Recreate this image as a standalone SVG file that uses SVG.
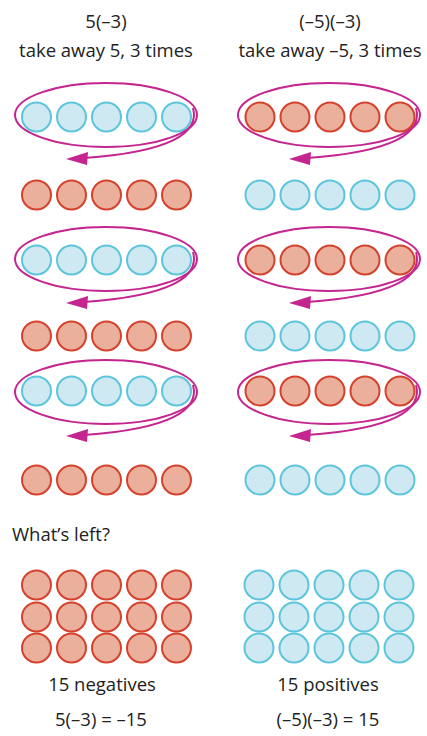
<svg xmlns="http://www.w3.org/2000/svg" width="427" height="736" viewBox="0 0 427 736">
<style>
text{font-family:"Open Sans","Liberation Sans",sans-serif;font-size:18.5px;fill:#222;}
.c{text-anchor:middle;}
.b{fill:#cee9f2;stroke:#5cc5dc;stroke-width:2;}
.r{fill:#ebb09b;stroke:#d4412d;stroke-width:2;}
.loop{fill:none;stroke:#c4258f;stroke-width:2;}
.head{fill:#c4258f;}
</style>
<defs>
<circle id="bc" r="14.5" class="b"/>
<circle id="rc" r="14.5" class="r"/>
<g id="brow"><use href="#bc" x="0"/><use href="#bc" x="35"/><use href="#bc" x="70"/><use href="#bc" x="105"/><use href="#bc" x="140"/></g>
<g id="rrow"><use href="#rc" x="0"/><use href="#rc" x="35"/><use href="#rc" x="70"/><use href="#rc" x="105"/><use href="#rc" x="140"/></g>
<g id="loop">
<ellipse class="loop" cx="106" cy="115" rx="91" ry="32"/>
<path class="loop" d="M193,108 C200,133 170,152 84,158"/>
<path class="head" d="M66,159 L88,152 L87,165 Z"/>
</g>
</defs>
<g id="titles">
<text class="c" x="106" y="28">5(–3)</text>
<text class="c" x="106" y="57">take away 5, 3 times</text>
<text class="c" x="330" y="28">(–5)(–3)</text>
<text class="c" x="330" y="57">take away –5, 3 times</text>
</g>
<g id="left-col">
<use href="#brow" x="36.5" y="117"/>
<use href="#rrow" x="36.5" y="195"/>
<use href="#brow" x="36.5" y="260"/>
<use href="#rrow" x="36.5" y="336"/>
<use href="#brow" x="36.5" y="391"/>
<use href="#rrow" x="36.5" y="480"/>
</g>
<g id="right-col">
<use href="#rrow" x="260" y="117"/>
<use href="#brow" x="260" y="195"/>
<use href="#rrow" x="260" y="260"/>
<use href="#brow" x="260" y="336"/>
<use href="#rrow" x="260" y="391"/>
<use href="#brow" x="260" y="480"/>
</g>
<g id="connectors">
<use id="loop-l1" href="#loop"/>
<use id="loop-l2" href="#loop" y="144"/>
<use id="loop-l3" href="#loop" y="277"/>
<use id="loop-r1" href="#loop" x="223"/>
<use id="loop-r2" href="#loop" x="223" y="144"/>
<use id="loop-r3" href="#loop" x="223" y="277"/>
</g>
<g id="whats-left">
<text x="12" y="541">What’s left?</text>
</g>
<g id="left-result">
<use href="#rrow" x="36.5" y="585"/>
<use href="#rrow" x="36.5" y="617"/>
<use href="#rrow" x="36.5" y="648"/>
<text class="c" x="102" y="691">15 negatives</text>
<text class="c" x="101" y="726">5(–3) = –15</text>
</g>
<g id="right-result">
<use href="#brow" x="259" y="585"/>
<use href="#brow" x="259" y="617"/>
<use href="#brow" x="259" y="648"/>
<text class="c" x="328" y="691">15 positives</text>
<text class="c" x="328" y="726">(–5)(–3) = 15</text>
</g>
</svg>
